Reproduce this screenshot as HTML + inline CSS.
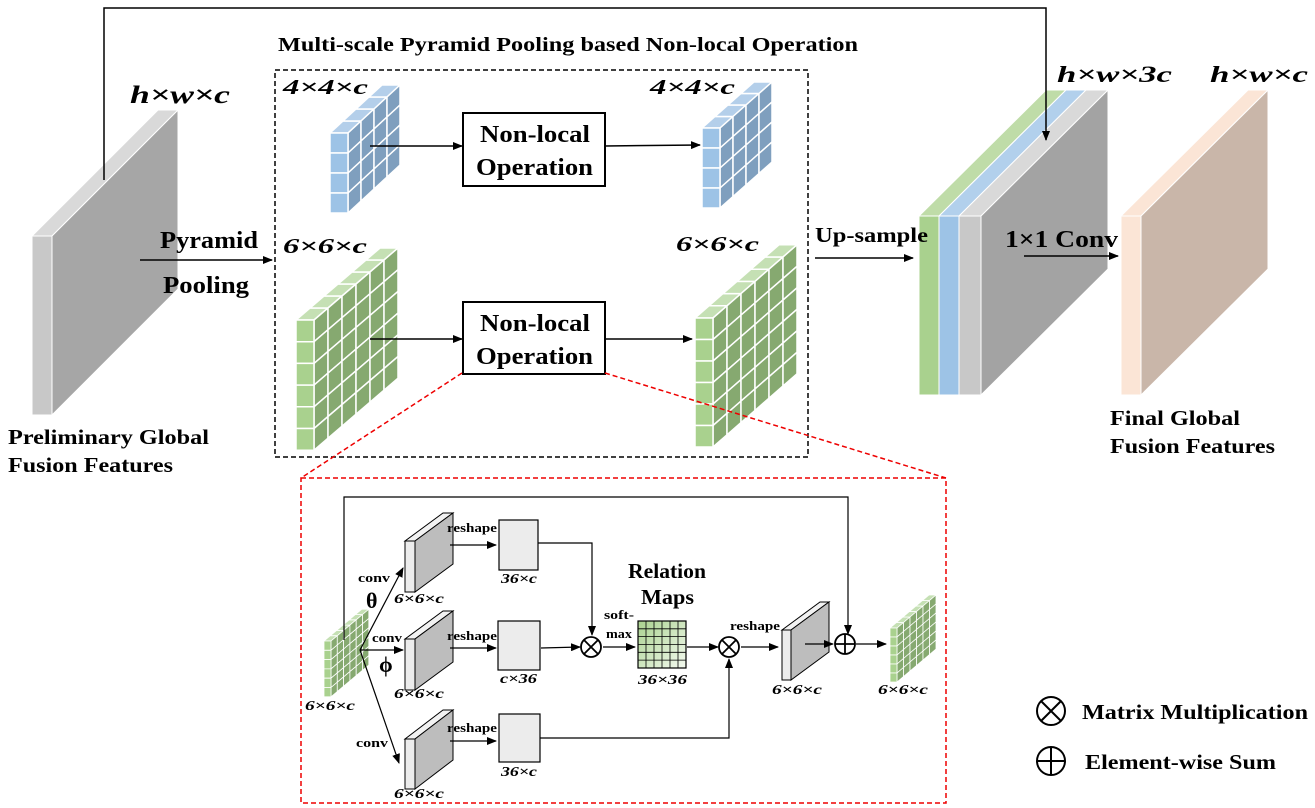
<!DOCTYPE html>
<html><head><meta charset="utf-8"><style>
html,body{margin:0;padding:0;background:#fff;}
svg{display:block;}
text{font-family:"Liberation Serif",serif;font-weight:bold;fill:#000;}
.it{font-style:italic;}
</style></head><body>
<svg id="s" width="1315" height="808" viewBox="0 0 1315 808" xmlns="http://www.w3.org/2000/svg">
<defs>
<marker id="a" markerWidth="10" markerHeight="8" refX="9" refY="4" orient="auto" markerUnits="userSpaceOnUse"><path d="M0,0 L10,4 L0,8 z" fill="#000"/></marker>
<linearGradient id="rg" x1="0" y1="0" x2="1" y2="1"><stop offset="0" stop-color="#a9d18e"/><stop offset="1" stop-color="#f4faf0"/></linearGradient>
</defs>
<g id="g"></g>

<rect x="275" y="70" width="533" height="387" fill="none" stroke="#000" stroke-width="1.5" stroke-dasharray="5,3"/>
<text x="278" y="51" font-size="20" textLength="580" lengthAdjust="spacingAndGlyphs">Multi-scale Pyramid Pooling based Non-local Operation</text>

<rect x="463" y="113" width="142" height="73" fill="#fff" stroke="#000" stroke-width="2"/>
<text x="480" y="142" font-size="24" textLength="110" lengthAdjust="spacingAndGlyphs">Non-local</text>
<text x="476" y="175" font-size="24" textLength="117" lengthAdjust="spacingAndGlyphs">Operation</text>
<rect x="463" y="302" width="142" height="72" fill="#fff" stroke="#000" stroke-width="2"/>
<text x="480" y="331" font-size="24" textLength="110" lengthAdjust="spacingAndGlyphs">Non-local</text>
<text x="476" y="364" font-size="24" textLength="117" lengthAdjust="spacingAndGlyphs">Operation</text>

<rect x="301" y="478" width="645" height="325" fill="none" stroke="#e00" stroke-width="1.5" stroke-dasharray="5,3"/>
<line x1="462" y1="373" x2="301" y2="478" stroke="#e00" stroke-width="1.5" stroke-dasharray="5,3"/>
<line x1="605" y1="373" x2="946" y2="478" stroke="#e00" stroke-width="1.5" stroke-dasharray="5,3"/>

<text x="130" y="103" font-size="25" class="it" textLength="100" lengthAdjust="spacingAndGlyphs">h×w×c</text>
<text x="283" y="94" font-size="21" class="it" textLength="85" lengthAdjust="spacingAndGlyphs">4×4×c</text>
<text x="650" y="94" font-size="21" class="it" textLength="85" lengthAdjust="spacingAndGlyphs">4×4×c</text>
<text x="283" y="253" font-size="21" class="it" textLength="84" lengthAdjust="spacingAndGlyphs">6×6×c</text>
<text x="676" y="251" font-size="21" class="it" textLength="83" lengthAdjust="spacingAndGlyphs">6×6×c</text>
<text x="1057" y="82" font-size="23" class="it" textLength="115" lengthAdjust="spacingAndGlyphs">h×w×3c</text>
<text x="1210" y="82" font-size="23" class="it" textLength="98" lengthAdjust="spacingAndGlyphs">h×w×c</text>
<text x="160" y="248" font-size="24" textLength="98" lengthAdjust="spacingAndGlyphs">Pyramid</text>
<text x="163" y="293" font-size="24" textLength="86" lengthAdjust="spacingAndGlyphs">Pooling</text>
<text x="815" y="242" font-size="21" textLength="113" lengthAdjust="spacingAndGlyphs">Up-sample</text>
<text x="1005" y="247" font-size="24" textLength="113" lengthAdjust="spacingAndGlyphs">1×1 Conv</text>
<text x="8" y="444" font-size="21" textLength="201" lengthAdjust="spacingAndGlyphs">Preliminary Global</text>
<text x="8" y="472" font-size="21" textLength="165" lengthAdjust="spacingAndGlyphs">Fusion Features</text>
<text x="1110" y="425" font-size="21" textLength="130" lengthAdjust="spacingAndGlyphs">Final Global</text>
<text x="1110" y="453" font-size="21" textLength="165" lengthAdjust="spacingAndGlyphs">Fusion Features</text>

<circle cx="1051" cy="711" r="14" fill="none" stroke="#000" stroke-width="2"/>
<path d="M1041,701 L1061,721 M1061,701 L1041,721" stroke="#000" stroke-width="2"/>
<text x="1082" y="719" font-size="21" textLength="226" lengthAdjust="spacingAndGlyphs">Matrix Multiplication</text>
<circle cx="1051" cy="761" r="14" fill="none" stroke="#000" stroke-width="2"/>
<path d="M1037,761 L1065,761 M1051,747 L1051,775" stroke="#000" stroke-width="2"/>
<text x="1085" y="769" font-size="21" textLength="191" lengthAdjust="spacingAndGlyphs">Element-wise Sum</text>

<g stroke="#000" stroke-width="1.5" fill="none">
<polyline points="104,180 104,8 1046,8 1046,140" marker-end="url(#a)"/>
<line x1="140" y1="260" x2="272" y2="260" marker-end="url(#a)"/>
<line x1="370" y1="146" x2="462" y2="146" marker-end="url(#a)"/>
<line x1="605" y1="146" x2="700" y2="145" marker-end="url(#a)"/>
<line x1="370" y1="339" x2="462" y2="339" marker-end="url(#a)"/>
<line x1="605" y1="339" x2="692" y2="339" marker-end="url(#a)"/>
<line x1="815" y1="258" x2="913" y2="258" marker-end="url(#a)"/>
<line x1="1024" y1="256" x2="1118" y2="256" marker-end="url(#a)"/>
</g>

<g stroke="#000" stroke-width="1.2" fill="none">
<polyline points="344,640 344,497 848,497 848,634" marker-end="url(#a)"/>
<line x1="360" y1="650" x2="403" y2="568" marker-end="url(#a)"/>
<line x1="360" y1="650" x2="403" y2="650" marker-end="url(#a)"/>
<line x1="360" y1="650" x2="399" y2="763" marker-end="url(#a)"/>
<line x1="450" y1="545" x2="496" y2="545" marker-end="url(#a)"/>
<line x1="450" y1="648" x2="496" y2="648" marker-end="url(#a)"/>
<line x1="450" y1="741" x2="496" y2="741" marker-end="url(#a)"/>
<polyline points="538,543 592,543 592,635" marker-end="url(#a)"/>
<line x1="541" y1="648" x2="580" y2="647" marker-end="url(#a)"/>
<line x1="603" y1="647" x2="635" y2="647" marker-end="url(#a)"/>
<line x1="687" y1="647" x2="718" y2="647" marker-end="url(#a)"/>
<polyline points="540,738 729,738 729,659" marker-end="url(#a)"/>
<line x1="741" y1="647" x2="778" y2="647" marker-end="url(#a)"/>
<line x1="805" y1="644" x2="833" y2="644" marker-end="url(#a)"/>
<line x1="856" y1="644" x2="886" y2="644" marker-end="url(#a)"/>
</g>
<g fill="#ececec" stroke="#000" stroke-width="1.2">
<rect x="499" y="520" width="39" height="50"/>
<rect x="498" y="621" width="42" height="49"/>
<rect x="499" y="714" width="41" height="48"/>
</g>
<g stroke="#000" stroke-width="1.8" fill="#fff">
<circle cx="591" cy="647" r="10"/><path d="M584,640 L598,654 M598,640 L584,654" fill="none"/>
<circle cx="729" cy="647" r="10"/><path d="M722,640 L736,654 M736,640 L722,654" fill="none"/>
<circle cx="845" cy="644" r="10"/><path d="M835,644 L855,644 M845,634 L845,654" fill="none"/>
</g>
<rect x="638" y="621" width="48" height="47" fill="url(#rg)" stroke="#000" stroke-width="1.2"/>
<g id="rgrid" stroke="#000" stroke-width="0.8"></g>

<g font-size="13">
<text x="447" y="532" textLength="50" lengthAdjust="spacingAndGlyphs">reshape</text>
<text x="447" y="640" textLength="50" lengthAdjust="spacingAndGlyphs">reshape</text>
<text x="447" y="732" textLength="50" lengthAdjust="spacingAndGlyphs">reshape</text>
<text x="730" y="630" textLength="50" lengthAdjust="spacingAndGlyphs">reshape</text>
<text x="358" y="582" textLength="32" lengthAdjust="spacingAndGlyphs">conv</text>
<text x="372" y="642" textLength="30" lengthAdjust="spacingAndGlyphs">conv</text>
<text x="356" y="747" textLength="32" lengthAdjust="spacingAndGlyphs">conv</text>
<text x="604" y="619" textLength="30" lengthAdjust="spacingAndGlyphs">soft-</text>
<text x="606" y="638" textLength="26" lengthAdjust="spacingAndGlyphs">max</text>
</g>
<text x="366" y="608" font-size="22">θ</text>
<text x="379" y="672" font-size="22">ϕ</text>
<text x="628" y="578" font-size="21" textLength="78" lengthAdjust="spacingAndGlyphs">Relation</text>
<text x="641" y="604" font-size="21" textLength="53" lengthAdjust="spacingAndGlyphs">Maps</text>
<g font-size="14" class="it">
<text x="394" y="603" textLength="50" lengthAdjust="spacingAndGlyphs">6×6×c</text>
<text x="394" y="698" textLength="50" lengthAdjust="spacingAndGlyphs">6×6×c</text>
<text x="394" y="798" textLength="50" lengthAdjust="spacingAndGlyphs">6×6×c</text>
<text x="501" y="583" textLength="36" lengthAdjust="spacingAndGlyphs">36×c</text>
<text x="500" y="683" textLength="37" lengthAdjust="spacingAndGlyphs">c×36</text>
<text x="501" y="776" textLength="36" lengthAdjust="spacingAndGlyphs">36×c</text>
<text x="638" y="684" textLength="49" lengthAdjust="spacingAndGlyphs">36×36</text>
<text x="772" y="694" textLength="50" lengthAdjust="spacingAndGlyphs">6×6×c</text>
<text x="878" y="694" textLength="50" lengthAdjust="spacingAndGlyphs">6×6×c</text>
<text x="305" y="710" textLength="50" lengthAdjust="spacingAndGlyphs">6×6×c</text>
</g>
</svg>
<script>
var NS="http://www.w3.org/2000/svg",G=document.getElementById('g');
function P(pts,fill,stroke,sw){var e=document.createElementNS(NS,'polygon');e.setAttribute('points',pts.map(function(p){return p[0].toFixed(1)+','+p[1].toFixed(1)}).join(' '));e.setAttribute('fill',fill);if(stroke){e.setAttribute('stroke',stroke);e.setAttribute('stroke-width',sw||1);}G.appendChild(e);}
function slab(x,y,w,h,dx,dy,cf,cs,ct,side,st,sw){
 P([[x,y],[x+w,y],[x+w+dx,y-dy],[x+dx,y-dy]],ct,st,sw);
 if(side)P([[x+w,y],[x+w+dx,y-dy],[x+w+dx,y+h-dy],[x+w,y+h]],cs,st,sw);
 P([[x,y],[x+w,y],[x+w,y+h],[x,y+h]],cf,st,sw);}
function grid(x0,y0,w,h,n,dx,dy,cf,cs,ct,sw){
 for(var j=0;j<n;j++){P([[x0+j*dx,y0-j*dy],[x0+w+j*dx,y0-j*dy],[x0+w+(j+1)*dx,y0-(j+1)*dy],[x0+(j+1)*dx,y0-(j+1)*dy]],ct,'#fff',sw);
  for(var i=0;i<n;i++){var X=x0+w+j*dx,Y=y0+i*h-j*dy;P([[X,Y],[X+dx,Y-dy],[X+dx,Y-dy+h],[X,Y+h]],cs,'#fff',sw);}}
 for(var i=0;i<n;i++)P([[x0,y0+i*h],[x0+w,y0+i*h],[x0+w,y0+(i+1)*h],[x0,y0+(i+1)*h]],cf,'#fff',sw);}
slab(32,236,20,179,126,126,'#c8c8c8','#a6a6a6','#d9d9d9',true,'#fff',1);
slab(919,216,20,179,127,126,'#a9d18e','#a9d18e','#bfdca8',false,'#fff',1);
slab(939,216,20,179,127,126,'#9dc3e6','#9dc3e6','#b2d0ec',false,'#fff',1);
slab(959,216,22,179,127,126,'#c8c8c8','#a3a3a3','#d9d9d9',true,'#fff',1);
slab(1121,216,20,179,127,126,'#fbe5d6','#c9b6a9','#fbe5d6',true,'#fff',1);
var B=['#9dc3e6','#7f9fbe','#b4cfea'],Gr=['#a9d18e','#86a970','#c5e0b4'];
grid(330,133,18,20,4,13,12,B[0],B[1],B[2],1.5);
grid(702,128,18,20,4,13,11.5,B[0],B[1],B[2],1.5);
grid(296,320,18,21.7,6,14,12,Gr[0],Gr[1],Gr[2],1.5);
grid(695,318,18,21.5,6,14,12.2,Gr[0],Gr[1],Gr[2],1.5);
grid(324,641,7,9.3,6,6.3,5.3,Gr[0],Gr[1],Gr[2],0.8);
grid(890,628,7,9,6,6.5,5.5,Gr[0],Gr[1],Gr[2],0.8);
slab(405,541,10,51,38,28,'#ececec','#bdbdbd','#f2f2f2',true,'#000',1);
slab(405,639,10,51,38,28,'#ececec','#bdbdbd','#f2f2f2',true,'#000',1);
slab(405,739,10,50,38,29,'#ececec','#bdbdbd','#f2f2f2',true,'#000',1);
slab(782,630,9,50,38,28,'#ececec','#bdbdbd','#f2f2f2',true,'#000',1);
var R=document.getElementById('rgrid');
for(var k=1;k<6;k++){var a=document.createElementNS(NS,'line');a.setAttribute('x1',638+k*8);a.setAttribute('x2',638+k*8);a.setAttribute('y1',621);a.setAttribute('y2',668);R.appendChild(a);
var b=document.createElementNS(NS,'line');b.setAttribute('y1',621+k*7.83);b.setAttribute('y2',621+k*7.83);b.setAttribute('x1',638);b.setAttribute('x2',686);R.appendChild(b);}
</script>
</body></html>
